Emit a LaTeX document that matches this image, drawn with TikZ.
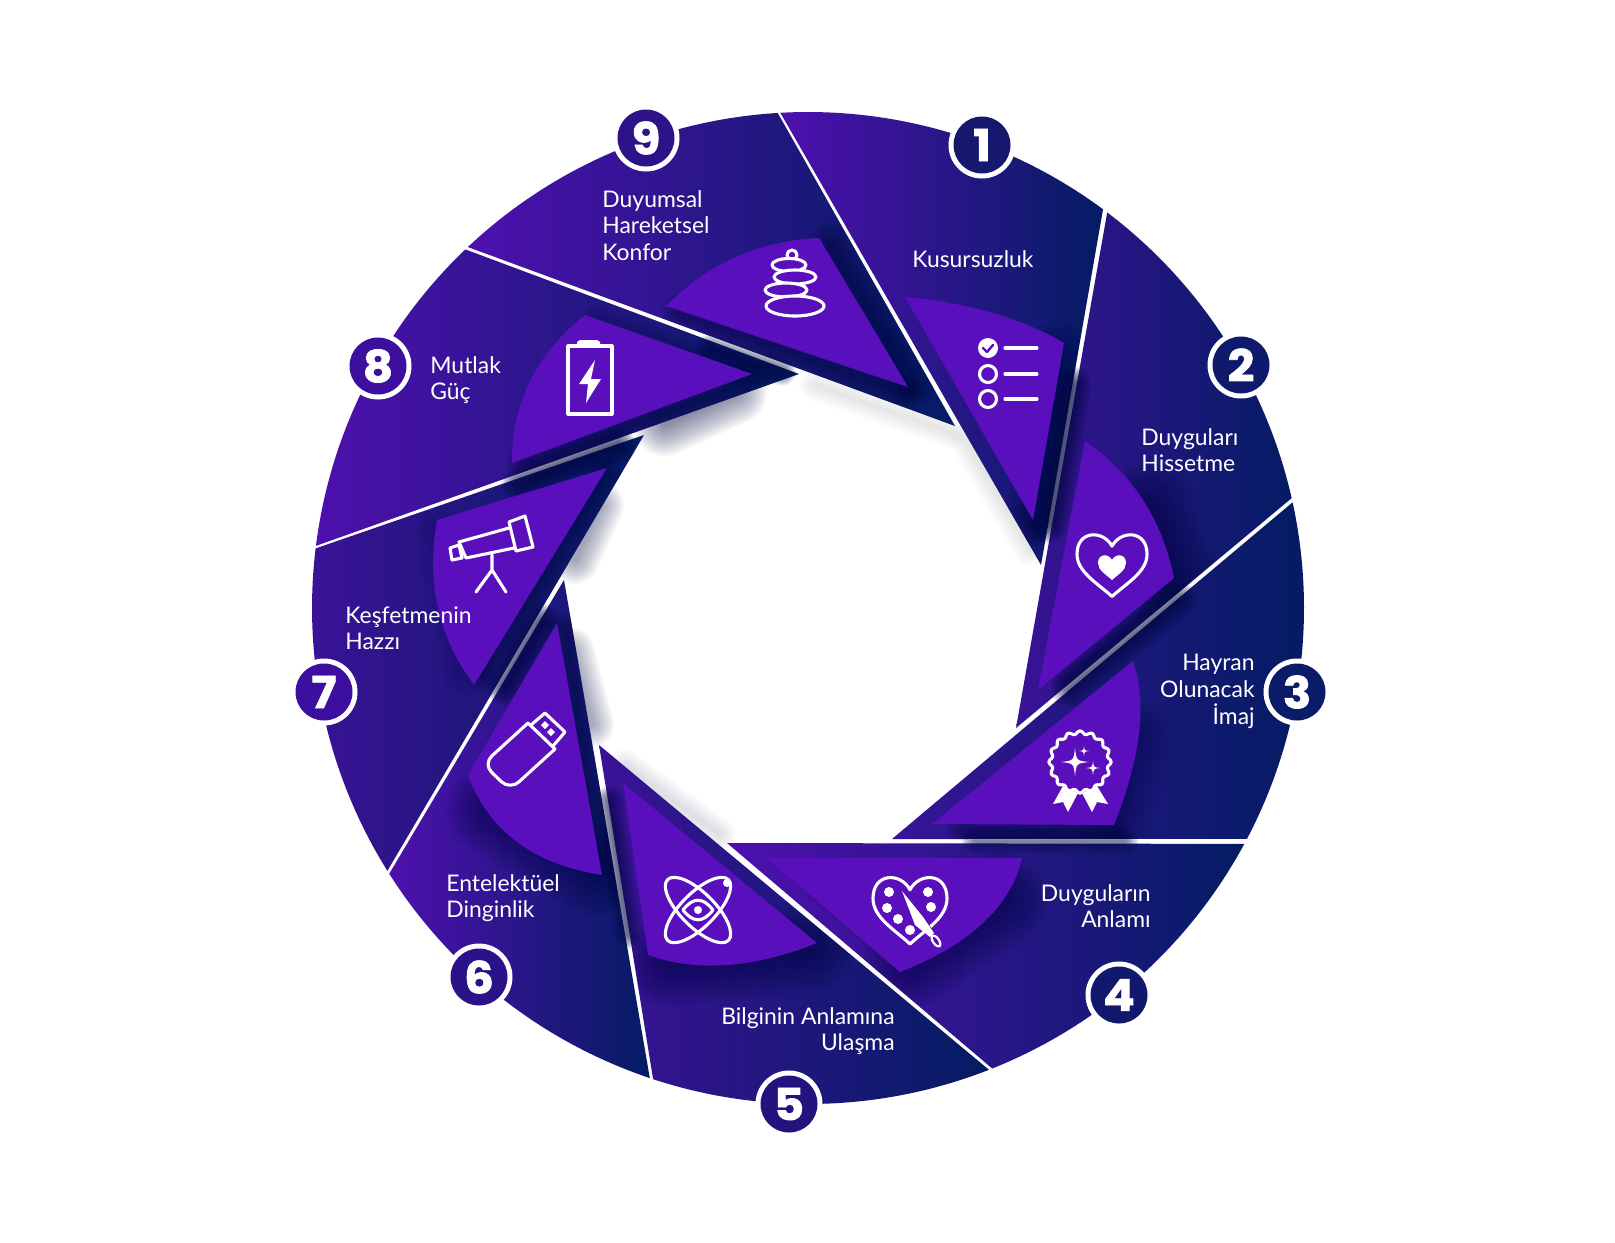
\documentclass[tikz,border=0pt]{standalone}
\usepackage{fontspec}
\setmainfont{Lato}
\newfontfamily\numf[BoldFeatures={FakeBold=1.6,FakeStretch=1.06}]{Poppins}
\definecolor{cP}{HTML}{4E10AE}
\definecolor{cM}{HTML}{161772}
\definecolor{cN}{HTML}{041C63}
\definecolor{cQ}{HTML}{3A1296}
\definecolor{cS}{HTML}{5A0FBD}
\definecolor{cD}{HTML}{020A40}
\tikzset{
 bladeA/.style={left color=cP,middle color=cM,right color=cN},
 bladeC/.style={left color=cQ,middle color=cM,right color=cN},
 bladeB/.style={left color=cP!70!cN,middle color=cN!92!cP,right color=cN},
 sectorfill/.style={fill=cS},
 shd/.style={draw=cD,line cap=round,line join=round},
 lab/.style={font=\fontsize{11.45pt}{13.35pt}\selectfont,text=white,inner sep=0pt},
 ico/.style={draw=white,line width=1.55pt,line cap=round,line join=round},
 icof/.style={fill=white},
 ring/.style={circle,fill=white,minimum size=33.5pt,inner sep=0pt},
 num/.style={circle,minimum size=28.5pt,inner sep=0pt,text=white,font=\numf\bfseries\fontsize{22pt}{22pt}\selectfont},
}
\newcommand\soft[3]{\foreach \w in {#1}{\draw[shd,line width=\w*.5pt,draw opacity=#2] #3;}}
\def\bA{(1041,565) -- plot[domain=-93.2:-53.5,samples=70,variable=\t] ({808+496*cos(\t)},{608+496*sin(\t)}) -- cycle}
\def\bB{(1016,728) -- plot[domain=-52.9:-12.8,samples=70,variable=\t] ({808+496*cos(\t)},{608+496*sin(\t)}) -- cycle}
\def\bC{(892,839) -- plot[domain=-12.3:27.75,samples=70,variable=\t] ({808+496*cos(\t)},{608+496*sin(\t)}) -- cycle}
\def\bD{(727,843) -- plot[domain=28.4:68.2,samples=70,variable=\t] ({808+496*cos(\t)},{608+496*sin(\t)}) -- cycle}
\def\bE{(599,745) -- plot[domain=68.6:108.2,samples=70,variable=\t] ({808+496*cos(\t)},{608+496*sin(\t)}) -- cycle}
\def\bF{(564,580) -- plot[domain=108.6:147.6,samples=70,variable=\t] ({808+496*cos(\t)},{608+496*sin(\t)}) -- cycle}
\def\bG{(644,435) -- plot[domain=148:186.9,samples=70,variable=\t] ({808+496*cos(\t)},{608+496*sin(\t)}) -- cycle}
\def\bH{(799,374) -- plot[domain=187.2:226.3,samples=70,variable=\t] ({808+496*cos(\t)},{608+496*sin(\t)}) -- cycle}
\def\bI{(955,426) -- plot[domain=226.7:266.5,samples=70,variable=\t] ({808+496*cos(\t)},{608+496*sin(\t)}) -- cycle}
\def\sA{(1033,520) -- (905,297) .. controls (969.3,303) and (1022.3,318.3) .. (1064,343) -- cycle}
\def\sB{(1038,690) -- (1085,441) .. controls (1132.7,474) and (1162.3,519.7) .. (1174,578) -- cycle}
\def\sC{(932,824) -- (1114,825) .. controls (1141,757) and (1147.3,702.3) .. (1133,661) -- cycle}
\def\sD{(767,858) -- (1022,858) .. controls (1010.7,906.7) and (970,944.7) .. (900,972) -- cycle}
\def\sE{(623,783) -- (648,955) .. controls (697,972.3) and (753.3,968.3) .. (817,943) -- cycle}
\def\sF{(557,623) -- (602,875) .. controls (533.3,864.3) and (488.7,831) .. (468,775) -- cycle}
\def\sG{(607,468) -- (437,520) .. controls (426,582.3) and (438.3,637.3) .. (474,685) -- cycle}
\def\sH{(752,374) -- (585,315) .. controls (536,353.7) and (511.7,403) .. (512,463) -- cycle}
\def\sI{(908,387) -- (819,238) .. controls (759.3,240.7) and (708.3,263.3) .. (666,306) -- cycle}
\def\heartp{(0,-0.55) .. controls (0.25,-1.05) and (1,-1.05) .. (1,-0.3) .. controls (1,0.25) and (0.4,0.6) .. (0,1) .. controls (-0.4,0.6) and (-1,0.25) .. (-1,-0.3) .. controls (-1,-1.05) and (-0.25,-1.05) .. (0,-0.55) -- cycle}
\def\starp{(0,-1) .. controls (.1,-.1) .. (1,0) .. controls (.1,.1) .. (0,1) .. controls (-.1,.1) .. (-1,0) .. controls (-.1,-.1) .. (0,-1) -- cycle}
\begin{document}
\begin{tikzpicture}[x=.5pt,y=-.5pt]
\path[use as bounding box,fill=white] (0,0) rectangle (1615,1242);
% soft shadows on the white centre
\soft{4,8,...,64}{.035}{(735,392) -- (665,424)}
\soft{4,8,...,48}{.035}{(600,505) -- (575,560)}
\soft{4,8,...,44}{.035}{(572,650) -- (592,725)}
\soft{4,8,...,32}{.012}{(815,385) -- (950,432)}
\soft{4,8,...,32}{.01}{(965,440) -- (1030,550)}
\soft{4,8,...,32}{.014}{(625,765) -- (720,835)}
% blades
\shade[bladeA] \bA;
\shade[bladeC] \bB;
\shade[bladeB] \bC;
\shade[bladeA] \bD;
\shade[bladeC] \bE;
\shade[bladeA] \bF;
\shade[bladeC] \bG;
\shade[bladeA] \bH;
\shade[bladeA] \bI;
% shadows falling across the seams
\soft{3,6,...,36}{.09}{(1074,385) -- (1050,525)}
\soft{3,6,...,36}{.075}{(1180,600) -- (1070,690)}
\soft{3,6,...,27}{.07}{(975,841) -- (1125,841)}
\soft{3,6,...,21}{.035}{(815,890) -- (875,940)}
\soft{3,6,...,27}{.09}{(609,800) -- (628,935)}
\soft{3,6,...,36}{.09}{(543,622) -- (505,688)}
\soft{3,6,...,36}{.09}{(618,446) -- (520,484)}
\soft{3,6,...,27}{.09}{(710,348) -- (782,372)}
% dark bands and halos kept inside a blade
\begin{scope}\clip \bA; \soft{6,12,...,72}{.045}{(1060,355) -- (1040,515)} \soft{4,8,...,24}{.06}{(1036,535) -- (1022,510)} \end{scope}
\begin{scope}\clip \bB; \soft{6,12,...,96}{.05}{(1170,575) -- (1148,510)} \soft{4,8,...,28}{.07}{(1172,590) -- (1065,680)} \end{scope}
\begin{scope}\clip \bC; \soft{6,12,...,72}{.035}{(1137,735) -- (1116,820)} \soft{4,8,...,36}{.07}{(1110,832) -- (965,832)} \end{scope}
\begin{scope}\clip \bD; \soft{6,12,...,96}{.05}{(1000,900) -- (910,960)} \end{scope}
\begin{scope}\clip \bE; \soft{6,12,...,90}{.05}{(670,962) -- (810,948)} \end{scope}
\begin{scope}\clip \bF; \soft{6,12,...,90}{.045}{(490,810) -- (595,872)} \soft{4,8,...,36}{.07}{(565,630) -- (598,860)} \end{scope}
\begin{scope}\clip \bG; \soft{4,8,...,36}{.07}{(605,475) -- (482,675)} \soft{6,12,...,48}{.02}{(437,530) -- (465,670)} \end{scope}
\begin{scope}\clip \bH; \soft{4,8,...,36}{.075}{(755,380) -- (525,463)} \soft{4,8,...,28}{.035}{(595,318) -- (745,372)}\end{scope}
\begin{scope}\clip \bI; \soft{4,8,...,48}{.06}{(830,245) -- (912,385)} \soft{4,8,...,36}{.07}{(680,312) -- (905,393)} \end{scope}
% inner sectors
\fill[sectorfill] \sA;
\fill[sectorfill] \sB;
\fill[sectorfill] \sC;
\fill[sectorfill] \sD;
\fill[sectorfill] \sE;
\fill[sectorfill] \sF;
\fill[sectorfill] \sG;
\fill[sectorfill] \sH;
\fill[sectorfill] \sI;
% icon 1: checklist
\draw[ico] (988,374) circle[radius=8.5] (988,399) circle[radius=8.5];
\fill[icof] (988,348) circle[radius=10];
\draw[draw=cS,line width=1.2pt,line cap=round,line join=round] (983,348) -- (987,352) -- (993,345);
\draw[ico] (1005,348) -- (1037,348) (1005,374) -- (1037,374) (1005,399) -- (1037,399);
% icon 2: heart
\begin{scope}[shift={(1112,564)},xscale=35,yscale=32.5] \draw[ico] \heartp; \end{scope}
\begin{scope}[shift={(1112,567)},xscale=14,yscale=13] \fill[icof] \heartp; \end{scope}
% icon 3: rosette
\draw[ico] plot[domain=0:360,samples=145,variable=\t] ({1080+(29.5+1.6*cos(16*\t))*cos(\t)},{762+(29.5+1.6*cos(16*\t))*sin(\t)}) -- cycle;
\begin{scope}[shift={(1075,762)},scale=14] \fill[icof] \starp; \end{scope}
\begin{scope}[shift={(1093,768)},scale=7] \fill[icof] \starp; \end{scope}
\begin{scope}[shift={(1084,751)},scale=5] \fill[icof] \starp; \end{scope}
\fill[icof] (1063,786) -- (1053,804) -- (1063,802) -- (1068,812) -- (1078,793) -- cycle;
\fill[icof] (1097,786) -- (1108,804) -- (1097,802) -- (1092,812) -- (1082,793) -- cycle;
% icon 4: palette heart
\begin{scope}[shift={(910,909)},xscale=37,yscale=35] \draw[ico] \heartp; \end{scope}
\fill[icof] (889,892) circle[radius=5] (887,908) circle[radius=5] (898,919) circle[radius=5] (910,930) circle[radius=5] (928,892) circle[radius=5] (931,907) circle[radius=5];
\draw[draw=cS,line width=4pt] (915,913) -- (936,941);
\fill[icof] (902,891) -- (923,917) -- (934,933) -- (930,937) -- (915,925) -- cycle;
\draw[ico,line width=1.1pt,fill=cS] (936,941) ellipse[x radius=3,y radius=6.5,rotate=35];
% icon 5: atom
\begin{scope}[shift={(698,910)}]
\draw[ico] (0,0) ellipse[x radius=43,y radius=17,rotate=45];
\draw[ico] (0,0) ellipse[x radius=43,y radius=17,rotate=-45];
\draw[ico,fill=cS] (-15,0) .. controls (-5,-13) and (5,-13) .. (15,0) .. controls (5,13) and (-5,13) .. (-15,0) -- cycle;
\fill[icof] (0,0) circle[radius=4];
\fill[icof] (29,-27) circle[radius=4];
\end{scope}
% icon 6: USB stick
\draw[ico,rounded corners=6pt] (528,723) -- (483,764) -- (510,790) -- (555,749);
\draw[ico] (528,723) -- (555,749);
\draw[ico] (531,725) -- (545,713) -- (565,732) -- (553,746);
\fill[icof] (545,721) -- (549,725) -- (545,729) -- (541,725) -- cycle;
\fill[icof] (551,728) -- (555,732) -- (551,736) -- (547,732) -- cycle;
% icon 7: telescope
\draw[ico] (509,522) -- (525,516) -- (533,547) -- (516,551) -- cycle;
\draw[ico] (509,528) -- (459,542) -- (466,558) -- (514,548);
\draw[ico] (450,548) -- (459,545) -- (462,558) -- (452,560) -- cycle;
\draw[ico] (492,555) -- (492,570) (476,592) -- (492,570) -- (506,592);
% icon 8: battery
\draw[ico] (568,346) rectangle (612,414);
\fill[icof] (577,346) -- (577,342) -- (580,340) -- (597,340) -- (600,342) -- (600,346) -- cycle;
\fill[icof] (595,360) -- (579,384) -- (588,384) -- (586,403) -- (601,379) -- (591,379) -- cycle;
% icon 9: stacked stones
\draw[ico] (792,255) circle[radius=5];
\draw[ico,fill=cS] (789,265) ellipse[x radius=17,y radius=6.5];
\draw[ico,fill=cS] (795,277) ellipse[x radius=21,y radius=7];
\draw[ico,fill=cS] (786,290) ellipse[x radius=21,y radius=7];
\draw[ico,fill=cS] (795,306) ellipse[x radius=29,y radius=10];
% labels
\node[lab,anchor=north west] (t1) at (912,250) {Kusursuzluk};
\node[lab,anchor=north west,align=left] (t2) at (1141,428) {Duyguları\\Hissetme};
\node[lab,anchor=north east,align=right] (t3) at (1255,654) {Hayran\\Olunacak\\İmaj};
\node[lab,anchor=north east,align=right] (t4) at (1151,884) {Duyguların\\Anlamı};
\node[lab,anchor=north east,align=right] (t5) at (895,1007) {Bilginin Anlamına\\Ulaşma};
\node[lab,anchor=north west,align=left] (t6) at (446,874) {Entelektüel\\Dinginlik};
\node[lab,anchor=north west,align=left] (t7) at (345,606) {Keşfetmenin\\Hazzı};
\node[lab,anchor=north west,align=left] (t8) at (430,356) {Mutlak\\Güç};
\node[lab,anchor=north west,align=left] (t9) at (602,190) {Duyumsal\\Hareketsel\\Konfor};
% numbered badges
\foreach \nm/\cx/\cy/\col in {1/982/145/16186E,2/1241/365/0F1A6C,3/1297/692/0A1C68,4/1119/995/12196C,5/789/1104/24137F,6/479/977/2A1288,7/324/692/3C0FA0,8/378/366/3C0F9E,9/646/138/2E1288}{
 \definecolor{bc}{HTML}{\col}
 \node[ring] (r\nm) at (\cx,\cy) {};
 \node[num,fill=bc] (n\nm) at (\cx,\cy) {\nm};
}
\end{tikzpicture}
\end{document}
